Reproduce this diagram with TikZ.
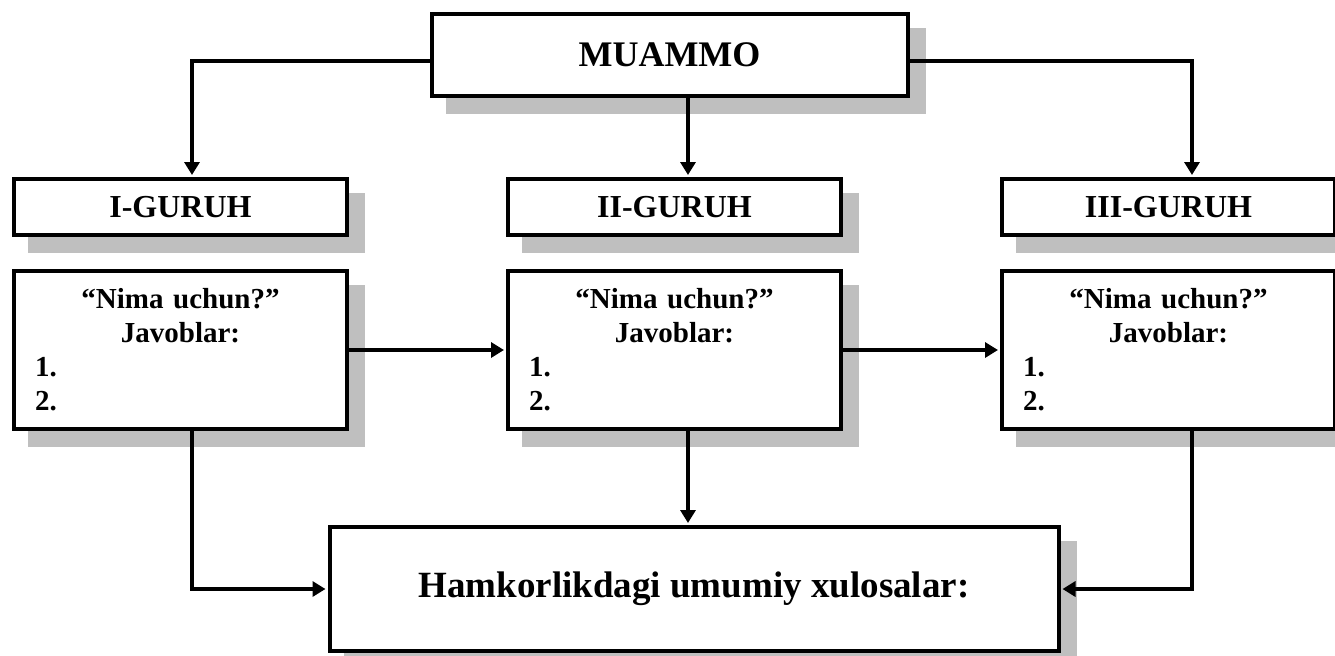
\documentclass[tikz,border=0pt]{standalone}
\usepackage{fontspec}
\setmainfont{Liberation Serif}
\usepackage{tikz}
\usetikzlibrary{arrows.meta, positioning, shadows, calc}
\definecolor{shadowgray}{RGB}{191,191,191}
\tikzset{
  boxshadow/.style={general shadow={fill=shadowgray, draw=shadowgray, line width=2pt, shadow xshift=8pt, shadow yshift=-8pt}},
  topbox/.style={rectangle, draw, line width=2pt, fill=white, boxshadow, minimum width=238pt, minimum height=41pt, font=\fontsize{18}{21}\selectfont\bfseries},
  groupbox/.style={rectangle, draw, line width=2pt, fill=white, boxshadow, minimum width=166.5pt, minimum height=28pt, inner sep=0pt, font=\fontsize{16}{19}\selectfont\bfseries},
  answerbox/.style={rectangle, draw, line width=2pt, fill=white, boxshadow, text width=145.5pt, inner xsep=10.5pt, minimum height=79pt, align=center, font=\fontsize{14.5}{17}\selectfont\bfseries},
  resultbox/.style={rectangle, draw, line width=2pt, fill=white, boxshadow, minimum width=364.5pt, minimum height=62pt, font=\fontsize{18.5}{22}\selectfont\bfseries},
  arr/.style={-{Triangle[length=6.5pt, width=7.5pt]}, line width=1.8pt, shorten >=1pt},
}

\begin{document}
\begin{tikzpicture}
  \useasboundingbox (0,0) rectangle (667.5pt,-327.5pt);

  % Groups
  \node[groupbox] (g1) at (90.25pt,-103.5pt) {I-GURUH};
  \node[groupbox, right=78.5pt of g1] (g2) {II-GURUH};
  \node[groupbox, right=78.5pt of g2] (g3) {III-GURUH};

  % Problem
  \node[topbox, above=39.5pt of g2, xshift=-2.5pt] (muammo) {MUAMMO};

  % Answers
  \node[answerbox, below=16pt of g1] (a1) {“Nima uchun?”\\Javoblar:\\1.\hfill\null\\2.\hfill\null};
  \node[answerbox, below=16pt of g2] (a2) {“Nima uchun?”\\Javoblar:\\1.\hfill\null\\2.\hfill\null};
  \node[answerbox, below=16pt of g3] (a3) {“Nima uchun?”\\Javoblar:\\1.\hfill\null\\2.\hfill\null};

  % Conclusions
  \node[resultbox, below=47pt of a2, xshift=9.75pt] (res) {Hamkorlikdagi umumiy xulosalar:};

  \draw[arr] ([yshift=-3pt]muammo.west) -| ([xshift=5.75pt]g1.north);
  \draw[arr] ([xshift=6.75pt]g2.north |- muammo.south) -- ([xshift=6.75pt]g2.north);
  \draw[arr] ([yshift=-3pt]muammo.east) -| ([xshift=11.75pt]g3.north);

  \draw[arr] (a1.east) -- (a2.west);
  \draw[arr] (a2.east) -- (a3.west);

  \draw[arr] ([xshift=5.75pt]a1.south) |- (res.west);
  \draw[arr] ([xshift=6.75pt]a2.south) -- ([xshift=6.75pt]a2.south |- res.north);
  \draw[arr] ([xshift=11.75pt]a3.south) |- (res.east);
\end{tikzpicture}
\end{document}
